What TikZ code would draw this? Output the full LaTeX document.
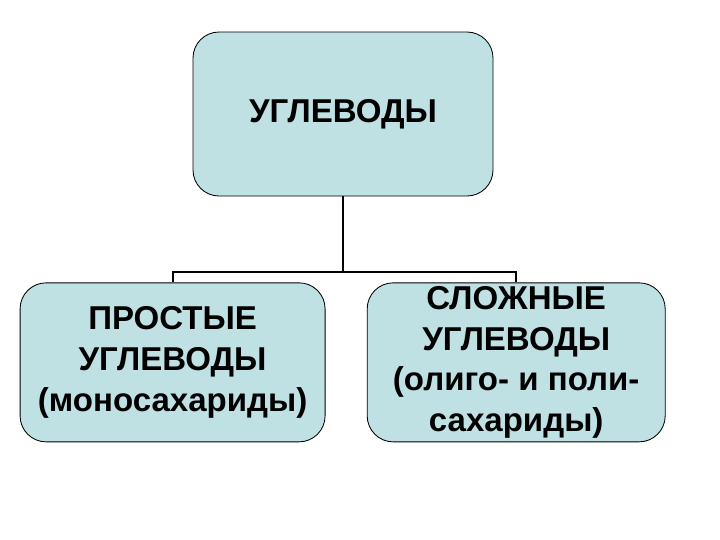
\documentclass[tikz,border=0pt]{standalone}
\usepackage{fontspec}
\setmainfont{Liberation Sans}
\usetikzlibrary{positioning}
\definecolor{carbfill}{HTML}{BFE1E4}
\tikzstyle{group} = [rectangle, rounded corners=0.65cm, draw=black, fill=carbfill, inner sep=1pt,
                     line width=0.6pt, align=center, font=\bfseries\fontsize{23.5}{29}\selectfont]
\tikzstyle{link} = [line width=1.5pt]

\begin{document}
\begin{tikzpicture}
    \useasboundingbox (0,0) rectangle (18,-13.5);

    % Top
    \node[group, minimum width=7.5cm, minimum height=4.1cm] (carbs) at (8.575,-2.85) {УГЛЕВОДЫ};

    % Children
    \node[group, minimum width=7.625cm, minimum height=3.975cm,
          below=2.15cm of carbs.south, anchor=north, xshift=-4.26cm] (simple)
          {ПРОСТЫЕ\\УГЛЕВОДЫ\\(моносахариды)};
    \node[group, minimum width=7.45cm, minimum height=3.975cm,
          below=2.15cm of carbs.south, anchor=north, xshift=4.33cm] (complex)
          {СЛОЖНЫЕ\\УГЛЕВОДЫ\\(олиго- и поли-\\сахариды)};

    % Connectors
    \coordinate[below=1.9cm of carbs.south] (bus);
    \draw[link] (carbs.south) -- (bus);
    \draw[link] (simple.north) |- (bus) -| (complex.north);
\end{tikzpicture}
\end{document}
